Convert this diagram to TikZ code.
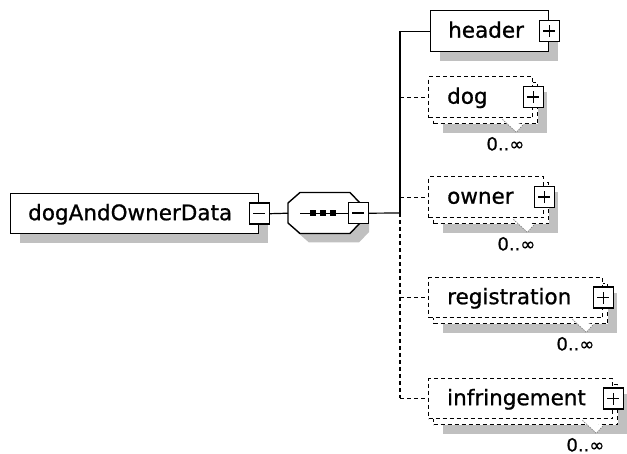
\documentclass[tikz,border=0pt]{standalone}
\usepackage{fontspec}
\setmainfont{DejaVu Sans}
\newfontfamily\elfont{DejaVu Sans}[FakeBold=0.8]
\usetikzlibrary{shadows}
\definecolor{shadowc}{RGB}{192,192,192}
\tikzset{
  elembox/.style={draw=black, line width=1.4pt, fill=white, anchor=north west, inner sep=0pt},
  dashbox/.style={elembox, dash pattern=on 4pt off 3pt},
  shad/.style={drop shadow={shadow xshift=9pt, shadow yshift=-9pt, fill=shadowc, opacity=1}},
  elname/.style={font=\elfont\fontsize{21.5}{24}\selectfont, anchor=base west, inner sep=0pt},
  occ/.style={font=\elfont\fontsize{18}{20}\selectfont, anchor=base, inner sep=0pt},
  pm/.style={draw=black, line width=1.4pt, fill=white, minimum width=20pt, minimum height=21pt, inner sep=0pt},
  plusbox/.style={pm, path picture={\draw[line width=1.4pt]
     ([xshift=-6pt]path picture bounding box.center) -- ([xshift=6pt]path picture bounding box.center)
     ([yshift=-6pt]path picture bounding box.center) -- ([yshift=6pt]path picture bounding box.center);}},
  minusbox/.style={pm, path picture={\draw[line width=1.4pt]
     ([xshift=-6pt]path picture bounding box.center) -- ([xshift=6pt]path picture bounding box.center);}},
  conn/.style={line width=1.2pt},
  dconn/.style={conn, dash pattern=on 4pt off 3pt},
  notch/.style={fill=white, draw=gray, line width=0.7pt, dash pattern=on 1.5pt off 1pt},
  octa/.style={draw=black, line width=1.4pt, fill=white},
}
\newcommand\multielem[6]{%
  \node[dashbox, shad, minimum width=#4pt, minimum height=#5pt] (#1b) at (#2+5,#3+6) {};
  \node[dashbox, minimum width=#4pt, minimum height=#5pt] (#1) at (#2,#3) {};
  \filldraw[notch] ([shift={(-31,1)}]#1.south east) -- ([shift={(-17,14)}]#1.south east) -- ([shift={(-10,6)}]#1.south east);
  \node[plusbox] (#1p) at (#1.east) {};
  \node[elname] (#1t) at ([shift={(19,6.5)}]#1.west) {#6};
  \node[occ] (#1o) at ([shift={(-28,32)}]#1.south east) {0..∞};
  \draw[dconn] (jn |- #1.west) -- (#1.west);
}
\begin{document}
\begin{tikzpicture}[x=1pt,y=-1pt]
\useasboundingbox (0,0) rectangle (627,454);
% root element
\node[elembox, shad, minimum width=248pt, minimum height=40pt] (root) at (10,193) {};
\node[elname] (roott) at ([shift={(18,6.5)}]root.west) {dogAndOwnerData};
\node[minusbox] (rootm) at (root.east) {};
% sequence compositor
\fill[shadowc, shift={(9,9)}] (300,192.5) -- (350,192.5) -- (360,203) -- (360,223) -- (350,233.5)
   -- (300,233.5) -- (288,223) -- (288,203) -- cycle;
\filldraw[octa] (300,192.5) -- (350,192.5) -- (360,203) -- (360,223) -- (350,233.5)
   -- (300,233.5) -- (288,223) -- (288,203) -- cycle;
\node[inner sep=0pt, minimum width=70pt, minimum height=41pt, anchor=north west] (seq) at (288,192.5) {};
\draw[conn] ([xshift=-23pt]seq.center) -- ([xshift=25pt]seq.center);
\foreach \d in {-10,0,10}
  \fill ([xshift=\d pt]seq.center) +(-3pt,-3pt) rectangle +(3pt,3pt);
\node[minusbox] (seqm) at (seq.east) {};
\draw[conn] (rootm.east) -- (seq.west);
\coordinate (jn) at (400,213);
\draw[conn] (seqm.east) -- (jn);
% header
\node[elembox, shad, minimum width=118pt, minimum height=41pt] (header) at (430,10) {};
\node[elname] (headert) at ([shift={(18,6.5)}]header.west) {header};
\node[plusbox] (headerp) at (header.east) {};
\draw[conn] (jn) |- (header.west);
% trunk dashed part
\coordinate (jnend) at (400,398);
\draw[dconn] (jn) -- (jnend);
% repeated elements
\multielem{dog}{428}{76}{104}{41}{dog}
\multielem{owner}{428}{176}{115}{41}{owner}
\multielem{registration}{428}{277}{174}{40}{registration}
\multielem{infringement}{428}{378}{184}{40}{infringement}
\end{tikzpicture}
\end{document}
